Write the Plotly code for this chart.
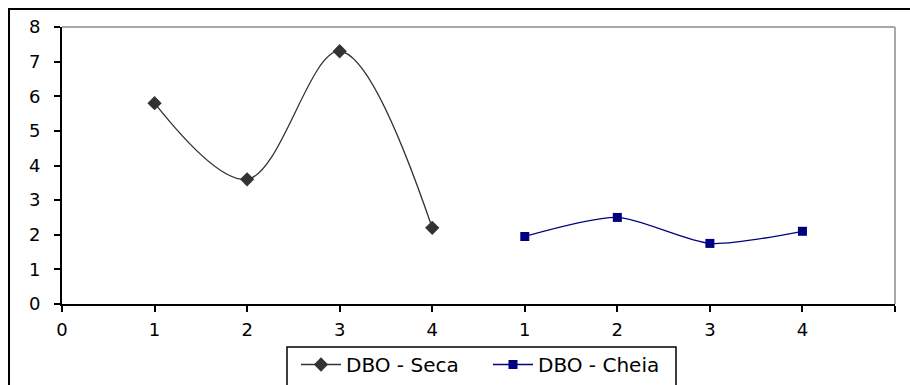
import plotly.graph_objects as go

# Data
seca_x = [1, 2, 3, 4]
seca_y = [5.8, 3.6, 7.3, 2.2]
cheia_x = [5, 6, 7, 8]
cheia_y = [1.95, 2.5, 1.75, 2.1]
x_tickvals = [0, 1, 2, 3, 4, 5, 6, 7, 8, 9]
x_ticktext = ["0", "1", "2", "3", "4", "1", "2", "3", "4", ""]
y_tickvals = [0, 1, 2, 3, 4, 5, 6, 7, 8]

W, H = 910, 385
ML, MR, MT, MB = 62, 15, 27, 81
PW = W - ML - MR
PH = H - MT - MB

def px_x(px):
    return (px - ML) / PW

def px_y(py):
    return (H - MB - py) / PH

FONT = "DejaVu Sans, Arial, sans-serif"

fig = go.Figure()
fig.add_trace(go.Scatter(
    x=seca_x, y=seca_y, name="DBO - Seca", mode="lines+markers",
    line=dict(color="#333333", width=1.3, shape="spline", smoothing=1.0),
    marker=dict(symbol="diamond", size=11, color="#333333"),
))
fig.add_trace(go.Scatter(
    x=cheia_x, y=cheia_y, name="DBO - Cheia", mode="lines+markers",
    line=dict(color="#000080", width=1.3, shape="spline", smoothing=0.7),
    marker=dict(symbol="square", size=9, color="#000080"),
))

fig.update_layout(
    width=W, height=H,
    margin=dict(l=ML, r=MR, t=MT, b=MB, pad=0, autoexpand=False),
    paper_bgcolor="white", plot_bgcolor="white",
    font=dict(family=FONT, size=16, color="black"),
    showlegend=True,
    legend=dict(
        orientation="h", x=px_x(296), xanchor="left", y=px_y(345), yanchor="top",
        font=dict(family=FONT, size=20, color="black"),
        bgcolor="rgba(0,0,0,0)", borderwidth=0, itemwidth=40,
        entrywidth=137, entrywidthmode="pixels",
    ),
    xaxis=dict(
        range=[0, 9], tickmode="array", tickvals=x_tickvals, ticktext=x_ticktext,
        showgrid=False, zeroline=False, showline=True, linecolor="black", linewidth=2,
        ticks="outside", ticklen=6, tickwidth=2, tickcolor="black",
        ticklabelstandoff=2, tickfont=dict(family=FONT, size=18),
        automargin=False,
    ),
    yaxis=dict(
        range=[0, 8], tickmode="array", tickvals=y_tickvals,
        showgrid=False, zeroline=False, showline=True, linecolor="black", linewidth=2,
        ticks="outside", ticklen=6, tickwidth=2, tickcolor="black",
        ticklabelstandoff=10, tickfont=dict(family=FONT, size=18),
        automargin=False,
    ),
    shapes=[
        # gray plot-area border (top and right)
        dict(type="line", xref="paper", yref="paper", x0=0, x1=1, y0=1, y1=1,
             line=dict(color="#a8a8a8", width=2)),
        dict(type="line", xref="paper", yref="paper", x0=1, x1=1, y0=0, y1=1,
             line=dict(color="#a8a8a8", width=2)),
        # outer chart frame (extends beyond the visible area)
        dict(type="rect", xref="paper", yref="paper",
             x0=px_x(9), x1=px_x(960), y0=px_y(430), y1=px_y(9),
             line=dict(color="black", width=2), layer="below"),
        # legend frame
        dict(type="rect", xref="paper", yref="paper",
             x0=px_x(287), x1=px_x(676), y0=px_y(420), y1=px_y(347),
             line=dict(color="black", width=1.5), layer="below"),
    ],
)

fig.write_html("out.html")
